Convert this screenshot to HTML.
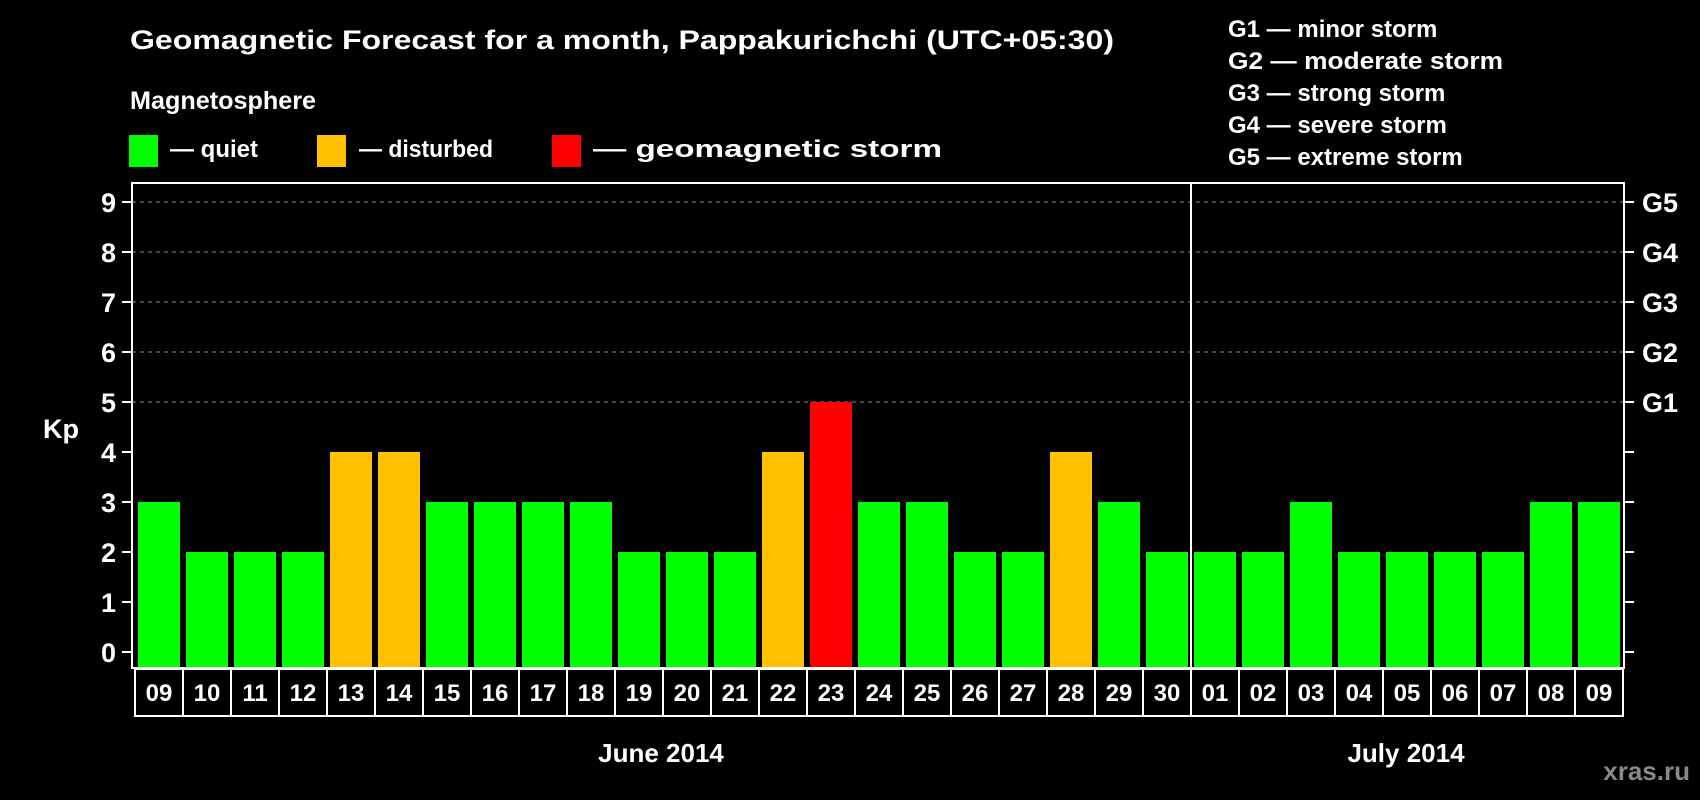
<!DOCTYPE html>
<html><head><meta charset="utf-8"><style>
html,body{margin:0;padding:0;background:#000;}
svg{display:block;font-family:"Liberation Sans",Arial,sans-serif;font-weight:bold;}
</style></head><body>
<svg id="chart" width="1700" height="800" viewBox="0 0 1700 800" xmlns="http://www.w3.org/2000/svg">
<rect x="0" y="0" width="1700" height="800" fill="#000"/>
<text x="130" y="49" fill="#fff" font-size="27" textLength="984" lengthAdjust="spacingAndGlyphs">Geomagnetic Forecast for a month, Pappakurichchi (UTC+05:30)</text>
<text x="130" y="109" fill="#fff" font-size="25" textLength="186" lengthAdjust="spacingAndGlyphs">Magnetosphere</text>
<g>
<rect x="129" y="135" width="29" height="32" fill="#00ff00"/>
<text x="170" y="157" fill="#fff" font-size="24">— quiet</text></g>
<g>
<rect x="317" y="135" width="29" height="32" fill="#ffc000"/>
<text x="359" y="157" fill="#fff" font-size="24" textLength="134" lengthAdjust="spacingAndGlyphs">— disturbed</text></g>
<g>
<rect x="552" y="135" width="29" height="32" fill="#ff0000"/>
<text x="593" y="157" fill="#fff" font-size="24" textLength="349" lengthAdjust="spacingAndGlyphs">— geomagnetic storm</text></g>
<g fill="#fff" font-size="24">
<text x="1228" y="37">G1 — minor storm</text>
<text x="1228" y="69" textLength="275" lengthAdjust="spacingAndGlyphs">G2 — moderate storm</text>
<text x="1228" y="101">G3 — strong storm</text>
<text x="1228" y="133">G4 — severe storm</text>
<text x="1228" y="165">G5 — extreme storm</text>
</g>
<text x="43" y="438" fill="#fff" font-size="27">Kp</text>
<text x="661" y="762" fill="#fff" font-size="26" text-anchor="middle">June 2014</text>
<text x="1406" y="762" fill="#fff" font-size="26" text-anchor="middle">July 2014</text>
<text x="1690" y="780" fill="#888" font-size="26" text-anchor="end">xras.ru</text>
<g id="grid"></g><g id="bars"></g><g id="axes"></g><g id="dates"></g>
</svg>
<script>
const days = ["09","10","11","12","13","14","15","16","17","18","19","20","21","22","23","24","25","26","27","28","29","30","01","02","03","04","05","06","07","08","09"];
const kpValues = [3,2,2,2,4,4,3,3,3,3,2,2,2,4,5,3,3,2,2,4,3,2,2,2,3,2,2,2,2,3,3];
const yTicks = [0,1,2,3,4,5,6,7,8,9];
const gLabels = ["","","","","","G1","G2","G3","G4","G5"];
const monthSplitIndex = 22;

const NS = "http://www.w3.org/2000/svg";
const plotL = 132, plotR = 1624, plotT = 183, plotB = 668;
const x0 = 138, pitch = 48, barW = 42;
function xScale(i){ return x0 + i * pitch; }
function yScale(v){ return 652 - v * 50; }
function mk(tag, attrs, parent){ const e = document.createElementNS(NS, tag); for (const k in attrs) e.setAttribute(k, attrs[k]); parent.appendChild(e); return e; }
function colorFor(v){ return v >= 5 ? "#ff0000" : (v >= 4 ? "#ffc000" : "#00ff00"); }

const grid = document.getElementById("grid"), bars = document.getElementById("bars"), axes = document.getElementById("axes"), dates = document.getElementById("dates");

yTicks.forEach((t) => {
  const y = yScale(t);
  if (t >= 5) {
    const g = mk("line", {x1: plotL, x2: plotR, y1: y, y2: y, stroke: "#888", "stroke-width": 1, "stroke-dasharray": "4,4"}, grid);
    
    
  }
  const tl = mk("line", {x1: plotL - 10, x2: plotL, y1: y, y2: y, stroke: "#fff", "stroke-width": 2}, axes);
  
  
  const tr = mk("line", {x1: plotR, x2: plotR + 10, y1: y, y2: y, stroke: "#fff", "stroke-width": 2}, axes);
  
  
  const lb = mk("text", {x: 116, y: y + 10, fill: "#fff", "font-size": 27, "text-anchor": "end"}, axes);
  lb.textContent = String(t);
  
  
  if (gLabels[t]) {
    const gl = mk("text", {x: 1642, y: y + 10, fill: "#fff", "font-size": 27}, axes);
    gl.textContent = gLabels[t];
    
    
  }
});

kpValues.forEach((v, i) => {
  const top = yScale(v);
  const r = mk("rect", {x: xScale(i), y: top, width: barW, height: plotB - top, fill: colorFor(v)}, bars);
  
  
});

const frame = mk("rect", {x: plotL, y: plotT, width: plotR - plotL, height: plotB - plotT, fill: "none", stroke: "#fff", "stroke-width": 2}, axes);


const splitX = xScale(monthSplitIndex) - 3;
const sp = mk("line", {x1: splitX, x2: splitX, y1: plotT, y2: plotB, stroke: "#fff", "stroke-width": 2}, axes);



days.forEach((d, i) => {
  const bx = xScale(i) - 3;
  const b = mk("rect", {x: bx, y: 669, width: pitch, height: 47, fill: "#000", stroke: "#fff", "stroke-width": 2}, dates);
  
  
  const t = mk("text", {x: bx + pitch / 2, y: 701, fill: "#fff", "font-size": 24, "text-anchor": "middle"}, dates);
  t.textContent = d;
  
  
});
</script>
</body></html>
